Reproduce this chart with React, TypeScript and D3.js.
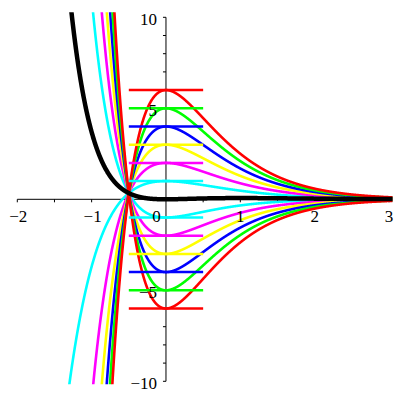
import React from "react";
import * as d3 from "d3";

// Family of solutions y = (A + 2A x + x^2/2) e^{-2x}, initial values y(0)=A, y'(0)=0
const AMPLITUDES = [1, 2, 3, 4, 5, 6];
const COLORS = ["#00ffff", "#ff00ff", "#ffff00", "#0000ff", "#00ff00", "#ff0000"];
const FORCING_COEF = 0.5; // coefficient of x^2 e^{-2x} (black curve, A = 0)
const X_TICK_LABELS = [-2, -1, 0, 1, 2, 3];
const X_MINOR_TICKS = [-2, -1.5, -1, -0.5, 0.5, 1, 1.5, 2, 2.5, 3];
const Y_TICK_LABELS = [10, 5, -5, -10];
const Y_MINOR_TICKS = d3.range(-10, 11).filter((v) => v !== 0);
const SEGMENT_HALF_WIDTH = 0.5;

const W = 400;
const H = 400;

const xScale = d3.scaleLinear().domain([-2, 3]).range([17.3, 389]);
const yScale = d3.scaleLinear().domain([10, -10]).range([17.3, 381.3]);

const f = (A: number, x: number) =>
  (A + 2 * A * x + FORCING_COEF * x * x) * Math.exp(-2 * x);

const xs = d3.range(-2, 3.05, 0.002);

const line = d3
  .line<[number, number]>()
  .x((d) => xScale(d[0]))
  .y((d) => yScale(d[1]));

const curvePath = (A: number) =>
  line(xs.map((x) => [x, Math.max(-60, Math.min(60, f(A, x)))] as [number, number])) || "";

const fmt = (v: number) => (v < 0 ? "\u2212" + Math.abs(v) : String(v));

export default function App() {
  const x0 = xScale(0);
  const y0 = yScale(0);
  const font = "'Liberation Serif', 'Times New Roman', serif";
  return (
    <svg
      width={W}
      height={H}
      style={{ position: "absolute", left: 0, top: 0, background: "#fff" }}
    >
      <defs>
        <clipPath id="plotClip">
          <rect x={xScale(-2)} y={yScale(10.28)} width={xScale(3.05) - xScale(-2)} height={yScale(-10.16) - yScale(10.28)} />
        </clipPath>
      </defs>
      {/* axes */}
      <line x1={xScale(-2)} x2={xScale(3.05)} y1={y0} y2={y0} stroke="#000" strokeWidth={1} />
      <line x1={x0} x2={x0} y1={yScale(10)} y2={yScale(-10)} stroke="#000" strokeWidth={1} />
      {X_MINOR_TICKS.map((t) => (
        <line key={"xt" + t} x1={xScale(t)} x2={xScale(t)} y1={y0} y2={y0 + 3} stroke="#000" strokeWidth={1} />
      ))}
      {Y_MINOR_TICKS.map((t) => (
        <line key={"yt" + t} x1={x0 - 3} x2={x0} y1={yScale(t)} y2={yScale(t)} stroke="#000" strokeWidth={1} />
      ))}
      {/* curves */}
      <g clipPath="url(#plotClip)" fill="none">
        {AMPLITUDES.map((A, i) => (
          <g key={"c" + A}>
            <path d={curvePath(A)} stroke={COLORS[i]} strokeWidth={2.6} />
            <path d={curvePath(-A)} stroke={COLORS[i]} strokeWidth={2.6} />
          </g>
        ))}
        {AMPLITUDES.map((A, i) => (
          <g key={"s" + A}>
            <line x1={xScale(-SEGMENT_HALF_WIDTH)} x2={xScale(SEGMENT_HALF_WIDTH)} y1={yScale(A)} y2={yScale(A)} stroke={COLORS[i]} strokeWidth={2.5} />
            <line x1={xScale(-SEGMENT_HALF_WIDTH)} x2={xScale(SEGMENT_HALF_WIDTH)} y1={yScale(-A)} y2={yScale(-A)} stroke={COLORS[i]} strokeWidth={2.5} />
          </g>
        ))}
        <path d={curvePath(0)} stroke="#000" strokeWidth={4.5} />
      </g>
      {/* labels on top */}
      {X_TICK_LABELS.map((t) => (
        <text
          key={"xl" + t}
          x={t === 0 ? x0 - 9.5 : xScale(t) + (t < 0 ? 1 : 0)}
          y={y0 + 22.5}
          fontSize={17}
          fontFamily={font}
          textAnchor="middle"
          fill="#000"
        >
          {fmt(t)}
        </text>
      ))}
      {Y_TICK_LABELS.map((t) => (
        <text
          key={"yl" + t}
          x={157}
          y={yScale(t) + 8}
          fontSize={17}
          fontFamily={font}
          textAnchor="end"
          fill="#000"
        >
          {fmt(t)}
        </text>
      ))}
    </svg>
  );
}
